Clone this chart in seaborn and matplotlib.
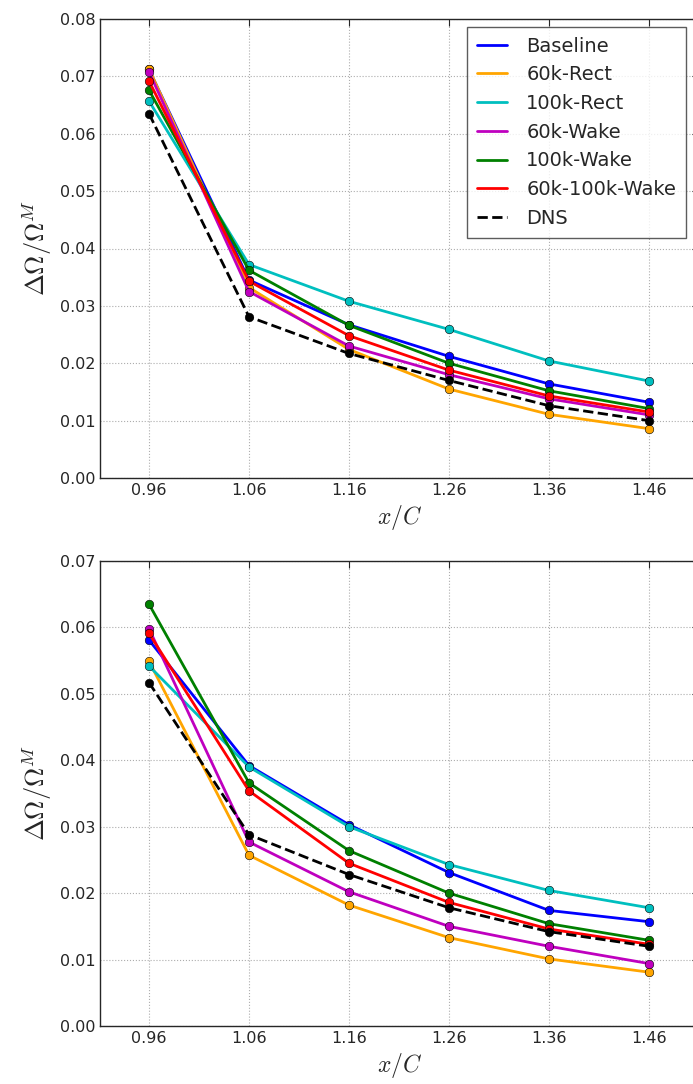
import matplotlib
matplotlib.use('Agg')
import matplotlib.pyplot as plt
from matplotlib.lines import Line2D
import seaborn as sns
import pandas as pd

X_POS = [0.96, 1.06, 1.16, 1.26, 1.36, 1.46]
CASES = ['Baseline', '60k-Rect', '100k-Rect', '60k-Wake', '100k-Wake', '60k-100k-Wake', 'DNS']
COLORS = ['#0000ff', '#ffa500', '#00bfbf', '#bf00bf', '#008000', '#ff0000', '#000000']

# top panel
top_baseline = [0.0712, 0.0345, 0.0267, 0.0212, 0.0164, 0.0132]
top_60k_rect = [0.0713, 0.0332, 0.0224, 0.0155, 0.0111, 0.0086]
top_100k_rect = [0.0657, 0.0372, 0.0308, 0.0259, 0.0204, 0.0169]
top_60k_wake = [0.0708, 0.0325, 0.0230, 0.0180, 0.0138, 0.0110]
top_100k_wake = [0.0676, 0.0362, 0.0266, 0.0200, 0.0152, 0.0121]
top_60k_100k_wake = [0.0692, 0.0343, 0.0248, 0.0188, 0.0143, 0.0115]
top_dns = [0.0635, 0.0281, 0.0217, 0.0170, 0.0126, 0.0100]

# bottom panel
bot_baseline = [0.0581, 0.0392, 0.0303, 0.0231, 0.0174, 0.0157]
bot_60k_rect = [0.0549, 0.0257, 0.0182, 0.0133, 0.0101, 0.0081]
bot_100k_rect = [0.0542, 0.0390, 0.0300, 0.0243, 0.0204, 0.0178]
bot_60k_wake = [0.0598, 0.0277, 0.0202, 0.0150, 0.0120, 0.0094]
bot_100k_wake = [0.0635, 0.0366, 0.0264, 0.0200, 0.0154, 0.0129]
bot_60k_100k_wake = [0.0591, 0.0354, 0.0245, 0.0186, 0.0146, 0.0123]
bot_dns = [0.0517, 0.0288, 0.0228, 0.0178, 0.0142, 0.0120]

TOP = [top_baseline, top_60k_rect, top_100k_rect, top_60k_wake,
       top_100k_wake, top_60k_100k_wake, top_dns]
BOT = [bot_baseline, bot_60k_rect, bot_100k_rect, bot_60k_wake,
       bot_100k_wake, bot_60k_100k_wake, bot_dns]

sns.set_style('white')
plt.rcParams['font.family'] = ['DejaVu Sans']
plt.rcParams['mathtext.fontset'] = 'cm'


def make_df(series):
    rows = []
    for case, vals in zip(CASES, series):
        for x, v in zip(X_POS, vals):
            rows.append({'case': case, 'x': x, 'val': v})
    return pd.DataFrame(rows)


def draw_panel(ax, series, ylim, yticks, legend=False):
    df = make_df(series)
    for i, (case, color) in enumerate(zip(CASES, COLORS)):
        sub = df[df['case'] == case]
        ls = '--' if case == 'DNS' else '-'
        sns.lineplot(data=sub, x='x', y='val', ax=ax, color=color, lw=2,
                     linestyle=ls, zorder=3 + i, legend=False)
        sns.scatterplot(data=sub, x='x', y='val', ax=ax, color=color, s=38,
                        edgecolor='k', linewidth=0.4, zorder=3 + i, legend=False)
    ax.set_xlim(0.911, 1.51)
    ax.set_ylim(*ylim)
    ax.set_xticks(X_POS)
    ax.set_xticklabels([f'{x:.2f}' for x in X_POS], fontsize=11.5)
    ax.set_yticks(yticks)
    ax.set_yticklabels([f'{y:.2f}' for y in yticks], fontsize=11.5)
    ax.grid(True, color='0.68', linestyle=':', linewidth=0.8)
    ax.tick_params(direction='in', top=True, right=True, length=5, width=0.8)
    for sp in ax.spines.values():
        sp.set_color('0.15')
        sp.set_linewidth(1.0)
    ax.set_xlabel(r'$x/C$', fontsize=17)
    ax.set_ylabel(r'$\Delta\Omega/\Omega^M$', fontsize=19, labelpad=4)
    if legend:
        handles = [Line2D([], [], color=c, lw=2, linestyle='--' if n == 'DNS' else '-')
                   for n, c in zip(CASES, COLORS)]
        leg = ax.legend(handles, CASES, loc='upper right',
                        bbox_to_anchor=(0.978, 0.983), borderaxespad=0,
                        fontsize=14, frameon=True, fancybox=False,
                        handlelength=1.55, handletextpad=1.0,
                        borderpad=0.5, labelspacing=0.5)
        leg.get_frame().set_edgecolor('0.2')
        leg.get_frame().set_linewidth(1.0)


fig = plt.figure(figsize=(6.93, 10.84), dpi=100)
ax1 = fig.add_axes([100 / 693, 1 - 478 / 1084, 599 / 693, 459 / 1084])
ax2 = fig.add_axes([100 / 693, 1 - 1026 / 1084, 599 / 693, 465 / 1084])

draw_panel(ax1, TOP, (0.0, 0.08), [0.00, 0.01, 0.02, 0.03, 0.04, 0.05, 0.06, 0.07, 0.08], legend=True)
draw_panel(ax2, BOT, (0.0, 0.07), [0.00, 0.01, 0.02, 0.03, 0.04, 0.05, 0.06, 0.07])

fig.savefig('out.png', dpi=100)
